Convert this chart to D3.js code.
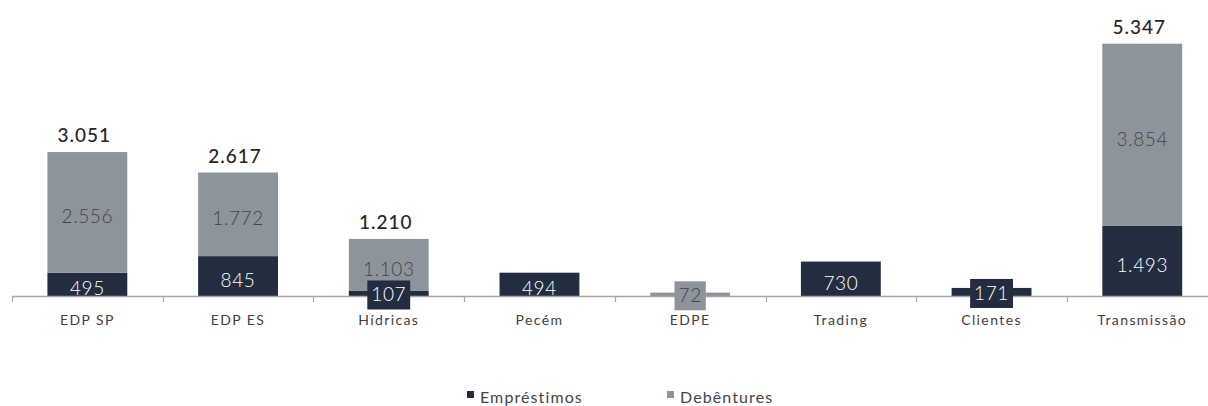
<!DOCTYPE html>
<html><head><meta charset="utf-8">
<script src="https://cdn.jsdelivr.net/npm/d3@7"></script>
<style>
html,body{margin:0;padding:0;background:#fff;}
svg{display:block;font-family:Lato,"Open Sans",sans-serif;}
</style></head>
<body>
<svg id="chart" width="1208" height="406"></svg>
<script>
const categories = ["EDP SP","EDP ES","Hídricas","Pecém","EDPE","Trading","Clientes","Transmissão"];
const emprestimos = [495,845,107,494,0,730,171,1493];
const debentures = [2556,1772,1103,0,72,0,0,3854];
const seriesNames = ["Empréstimos","Debêntures"];
const colors = ["#222e3f","#8e949b"];
const textColors = ["#ffffff","#444444"];

const fmt = v => d3.format(",")(v).replace(/,/g,".");

const svg = d3.select("#chart");
const baseY = 296;
const x = d3.scaleBand().domain(categories).range([12, 12 + 8*150.7]).paddingInner(0.47).paddingOuter(0.235);
const y = d3.scaleLinear().domain([0, 6000]).range([baseY, baseY - 6000*0.04718]);

const rows = categories.map((c,i)=>({cat:c, "Empréstimos":emprestimos[i], "Debêntures":debentures[i]}));
const stack = d3.stack().keys(seriesNames)(rows);

// bars
stack.forEach((layer,si)=>{
  svg.append("g").selectAll("rect").data(layer.filter(d=>d[1]-d[0]>0)).join("rect")
    .attr("x", d=>x(d.data.cat))
    .attr("width", x.bandwidth())
    .attr("y", d=>y(d[1]))
    .attr("height", d=>y(d[0])-y(d[1]))
    .attr("fill", colors[si]);
});

// axis
const axis = svg.append("g");
axis.append("line").attr("x1",12).attr("x2",1208).attr("y1",baseY+0.5).attr("y2",baseY+0.5)
  .attr("stroke","#a6a6a6").attr("stroke-width",1.5);
const step = x.step();
d3.range(0, categories.length+1).forEach(i=>{
  const tx = Math.round(12 + i*step)+0.5;
  axis.append("line").attr("x1",tx).attr("x2",tx).attr("y1",baseY).attr("y2",baseY+6)
    .attr("stroke","#a6a6a6").attr("stroke-width",1.2);
});
svg.append("g").selectAll("text").data(categories).join("text")
  .attr("x", d=>x(d)+x.bandwidth()/2).attr("y", 325)
  .attr("text-anchor","middle").attr("font-size",14).attr("letter-spacing","1.4px")
  .attr("fill","#404040").text(d=>d);

// segment labels
stack.forEach((layer,si)=>{
  layer.forEach(d=>{
    const v = d[1]-d[0];
    if(v<=0) return;
    const cx = x(d.data.cat)+x.bandwidth()/2;
    const h = y(d[0])-y(d[1]);
    const cy = (y(d[0])+y(d[1]))/2;
    const g = svg.append("g");
    const t = g.append("text").attr("x",cx).attr("text-anchor","middle")
      .attr("font-size",19).attr("font-weight",300).attr("letter-spacing","0.6px").attr("fill",textColors[si]).text(fmt(v));
    if(h < 18){
      const ty = cy;
      t.attr("y", ty+8);
      const bb = t.node().getBBox();
      g.insert("rect","text").attr("x", cx - bb.width/2 - 4).attr("width", bb.width+8)
        .attr("y", ty-13).attr("height", 29).attr("fill", colors[si]);
    } else {
      t.attr("y", Math.min(cy+11, baseY+1));
    }
  });
});

// totals
rows.forEach((r,i)=>{
  if(emprestimos[i]>0 && debentures[i]>0){
    const tot = emprestimos[i]+debentures[i];
    svg.append("text").attr("x", x(r.cat)+x.bandwidth()/2 - 3).attr("y", y(tot)-10)
      .attr("text-anchor","middle").attr("font-size",19).attr("font-weight",500)
      .attr("letter-spacing","1px").attr("fill","#262626").text(fmt(tot));
  }
});

// legend
const leg = svg.append("g");
const legX = [467, 667];
seriesNames.forEach((n,i)=>{
  leg.append("rect").attr("x",legX[i]).attr("y",391).attr("width",7).attr("height",7).attr("fill",colors[i]);
  leg.append("text").attr("x",legX[i]+13).attr("y",403).attr("font-size",16).attr("letter-spacing","1.1px")
    .attr("fill","#444").text(n);
});
</script>
</body></html>
